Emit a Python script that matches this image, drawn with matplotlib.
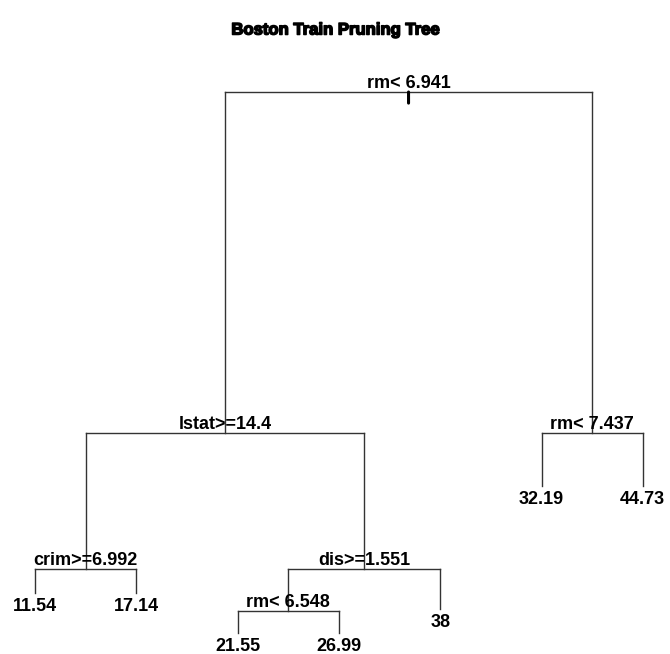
import matplotlib.pyplot as plt
import matplotlib.patheffects as pe

# arbol podado (rpart): etiquetas de cada nodo, padre y altura de la rama
node_labels = ['rm< 6.941', 'lstat>=14.4', 'rm< 7.437', 'crim>=6.992', 'dis>=1.551',
               '11.54', '17.14', 'rm< 6.548', '38', '21.55', '26.99', '32.19', '44.73']
node_parent = [None, 0, 0, 1, 1, 3, 3, 4, 4, 7, 7, 2, 2]
node_height = [1.0, 0.393, 0.393, 0.151, 0.151, 0.1085, 0.1085, 0.0765, 0.080,
               0.037, 0.037, 0.299, 0.299]

titulo = 'Boston Train Pruning Tree'


def hijos(i):
    return [j for j, p in enumerate(node_parent) if p == i]


# posicion x: hojas 1..n en orden, nodos internos al medio de sus hijos
pos_x = {}
contador = [0]


def asignar_x(i):
    h = hijos(i)
    if not h:
        contador[0] += 1
        pos_x[i] = contador[0]
    else:
        for j in h:
            asignar_x(j)
        pos_x[i] = (pos_x[h[0]] + pos_x[h[-1]]) / 2


asignar_x(0)

fig = plt.figure(figsize=(6.7, 6.54), dpi=100)
ax = fig.add_axes([0, 0, 1, 1])
ax.set_xlim(1 - 35 / 101.3, 1 + 635 / 101.3)
ax.set_ylim(0, 654 / 562)
ax.axis('off')

fuente = 'Liberation Sans'
color_linea = '#333333'

for i, etiqueta in enumerate(node_labels):
    x = pos_x[i]
    y = node_height[i]
    h = hijos(i)
    if h:
        xs = [pos_x[j] for j in h]
        ax.plot([min(xs), max(xs)], [y, y], color=color_linea, lw=1)
        for j in h:
            ax.plot([pos_x[j], pos_x[j]], [y, node_height[j]], color=color_linea, lw=1)
        ax.annotate(etiqueta, (x, y), xytext=(0, 0.3), textcoords='offset points',
                    ha='center', va='bottom', fontsize=13, fontweight='bold',
                    family=fuente)
    else:
        ax.annotate(etiqueta, (x, y), xytext=(0, -3.5), textcoords='offset points',
                    ha='center', va='top', fontsize=13, fontweight='bold',
                    family=fuente)

# marca corta en la raiz
ax.annotate('', (pos_x[0], node_height[0]), xytext=(0, -8), textcoords='offset points',
            arrowprops=dict(arrowstyle='-', lw=2.2, color='black',
                            shrinkA=0, shrinkB=0))

fig.text(0.5, 1 - 30 / 654, titulo, ha='center', va='center', fontsize=12,
         fontweight='heavy', family=fuente,
         path_effects=[pe.withStroke(linewidth=1.1, foreground='black')])

fig.savefig('out.png', dpi=100)
